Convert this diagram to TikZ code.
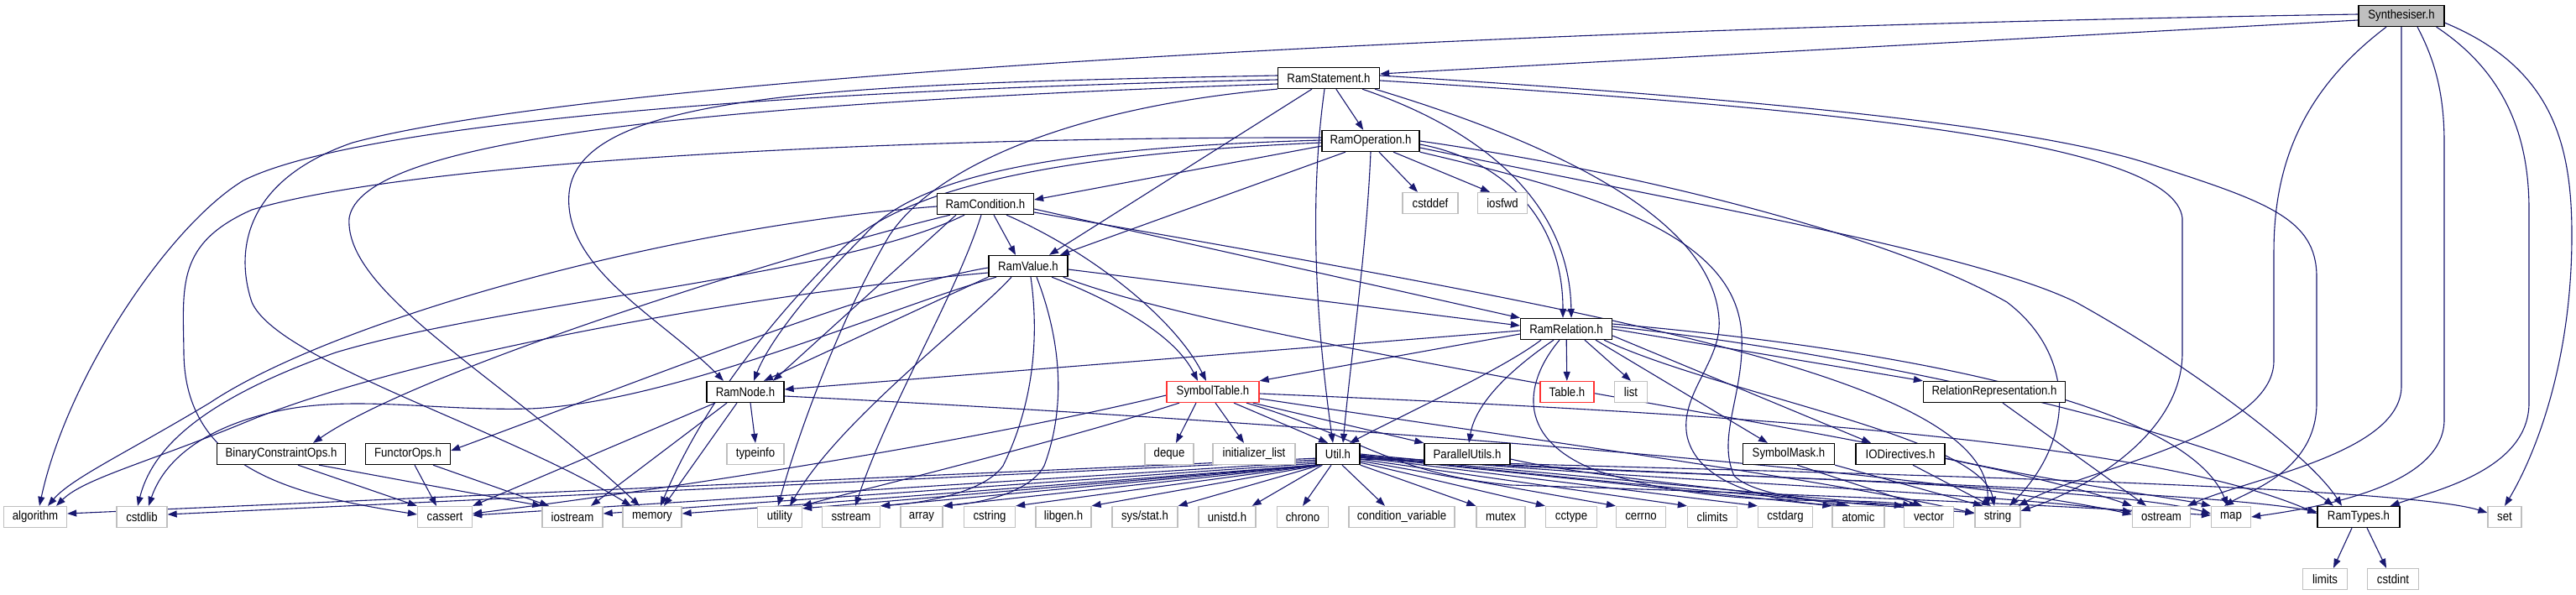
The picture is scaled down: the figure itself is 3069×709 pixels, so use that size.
\documentclass[tikz,border=0pt]{standalone}
\usepackage{fontspec}
\setmainfont{Liberation Sans}[FakeStretch=0.88]
\usetikzlibrary{arrows.meta}
\definecolor{edgec}{HTML}{191970}
\definecolor{sysgray}{HTML}{BFBFBF}
\definecolor{synfill}{HTML}{BFBFBF}
\definecolor{redb}{HTML}{FF3333}
\pgfdeclarelayer{bg}
\pgfsetlayers{bg,main}
\begin{document}
\begin{tikzpicture}[x=1pt,y=-1pt,
  base/.style={rectangle, inner sep=0pt, minimum height=25pt, line width=1.3pt, fill=white, font=\fontsize{15pt}{17pt}\selectfont},
  hb/.style={base, draw=black},
  sb/.style={base, draw=sysgray},
  rb/.style={base, draw=redb},
  ed/.style={draw=edgec, line width=1.1pt, -{Triangle[length=11pt,width=8pt]}}]
\useasboundingbox (0,0) rectangle (3069,709);

% ---------- nodes ----------
\node[hb,fill=synfill,minimum width=102pt] (S) at (2861,19) {Synthesiser.h};
\node[hb,minimum width=121pt] (RS) at (1583,93) {RamStatement.h};
\node[hb,minimum width=116pt] (RO) at (1633,168) {RamOperation.h};
\node[hb,minimum width=115pt] (RC) at (1174,243) {RamCondition.h};
\node[sb,minimum width=66pt] (cstddef) at (1704,242) {cstddef};
\node[sb,minimum width=59pt] (iosfwd) at (1790,242) {iosfwd};
\node[hb,minimum width=94pt] (RV) at (1225,317) {RamValue.h};
\node[hb,minimum width=109pt] (RR) at (1866,392) {RamRelation.h};
\node[hb,minimum width=92pt] (RN) at (888,467) {RamNode.h};
\node[rb,minimum width=110pt] (ST) at (1445,467) {SymbolTable.h};
\node[rb,minimum width=64pt] (Tab) at (1867,467) {Table.h};
\node[sb,minimum width=39pt] (list) at (1943,467) {list};
\node[hb,minimum width=169pt] (RelRep) at (2376,467) {RelationRepresentation.h};
\node[hb,minimum width=153pt] (BCO) at (335,541) {BinaryConstraintOps.h};
\node[hb,minimum width=101pt] (FO) at (486,541) {FunctorOps.h};
\node[sb,minimum width=68pt] (typeinfo) at (900,541) {typeinfo};
\node[sb,minimum width=58pt] (deque) at (1393,541) {deque};
\node[sb,minimum width=98pt] (initl) at (1494,541) {initializer\_list};
\node[hb,minimum width=52pt] (Util) at (1594,541) {Util.h};
\node[hb,minimum width=102pt] (PU) at (1748,541) {ParallelUtils.h};
\node[hb,minimum width=109pt] (SM) at (2131,541) {SymbolMask.h};
\node[hb,minimum width=106pt] (IOD) at (2264,541) {IODirectives.h};

\node[sb,minimum width=75pt] (alg) at (42,616) {algorithm};
\node[sb,minimum width=60pt] (cstd) at (169,616) {cstdlib};
\node[sb,minimum width=65pt] (cassert) at (530,616) {cassert};
\node[sb,minimum width=72pt] (iostream) at (682,616) {iostream};
\node[sb,minimum width=70pt] (mem) at (777,616) {memory};
\node[sb,minimum width=53pt] (utility) at (929,616) {utility};
\node[sb,minimum width=69pt] (sstream) at (1014,616) {sstream};
\node[sb,minimum width=50pt] (array) at (1098,616) {array};
\node[sb,minimum width=61pt] (cstring) at (1179,616) {cstring};
\node[sb,minimum width=66pt] (libgen) at (1267,616) {libgen.h};
\node[sb,minimum width=78pt] (sysstat) at (1364,616) {sys/stat.h};
\node[sb,minimum width=68pt] (unistd) at (1462,616) {unistd.h};
\node[sb,minimum width=61pt] (chrono) at (1552,616) {chrono};
\node[sb,minimum width=126pt] (condvar) at (1670,616) {condition\_variable};
\node[sb,minimum width=58pt] (mutex) at (1788,616) {mutex};
\node[sb,minimum width=61pt] (cctype) at (1872,616) {cctype};
\node[sb,minimum width=59pt] (cerrno) at (1955,616) {cerrno};
\node[sb,minimum width=59pt] (climits) at (2040,616) {climits};
\node[sb,minimum width=65pt] (cstdarg) at (2127,616) {cstdarg};
\node[sb,minimum width=62pt] (atomic) at (2214,616) {atomic};
\node[sb,minimum width=59pt] (vec) at (2298,616) {vector};
\node[sb,minimum width=54pt] (str) at (2380,616) {string};
\node[sb,minimum width=69pt] (ostream) at (2575,616) {ostream};
\node[sb,minimum width=47pt] (map) at (2658,616) {map};
\node[hb,minimum width=98pt] (RT) at (2810,616) {RamTypes.h};
\node[sb,minimum width=40pt] (set) at (2984,616) {set};
\node[sb,minimum width=53pt] (limits) at (2770,690) {limits};
\node[sb,minimum width=61pt] (cstdint) at (2851,690) {cstdint};

\begin{pgfonlayer}{bg}
\fill[white] (0,0) rectangle (3069,709);

% ---------- Synthesiser.h ----------
\draw[ed] ([yshift=-5pt]S.west) -- ([yshift=5pt]RS.east);
\draw[ed] ([yshift=2pt]S.west) .. controls (1700,35) and (700,95) .. (420,170) .. controls (290,215) and (280,300) .. (300,360) .. controls (330,430) and (600,510) .. ([xshift=-25pt]mem.north);
\draw[ed] ([xshift=-18pt]S.south) .. controls (2740,110) and (2709,200) .. (2709,300) -- (2709,430) .. controls (2709,520) and (2480,560) .. ([xshift=-3pt]str.north east);
\draw[ed] (S.south) -- (2861,460) .. controls (2861,540) and (2680,570) .. ([xshift=-4pt]ostream.north east);
\draw[ed] ([xshift=19pt]S.south) .. controls (2900,70) and (2912,110) .. (2912,170) -- (2912,500) .. controls (2912,580) and (2760,605) .. (map.east);
\draw[ed] ([xshift=-10pt]S.south east) .. controls (2990,90) and (3013,170) .. (3013,250) -- (3013,480) .. controls (3013,560) and (2900,585) .. ([xshift=-12pt]RT.north east);
\draw[ed] ([yshift=5pt]S.south east) .. controls (3040,80) and (3064,170) .. (3064,280) .. controls (3064,450) and (3010,560) .. (set.north);

% ---------- RamStatement.h ----------
\draw[ed] (RS) -- (RO);
\draw[ed] ([xshift=-20pt]RS.south) -- ([xshift=25pt]RV.north);
\draw[ed] ([xshift=-5pt]RS.south) .. controls (1558,250) and (1570,400) .. ([xshift=-6pt]Util.north);
\draw[ed] ([xshift=40pt]RS.south) .. controls (1780,160) and (1870,250) .. ([xshift=6pt]RR.north);
\draw[ed] ([yshift=3pt]RS.west) .. controls (1000,100) and (690,110) .. (678,230) .. controls (670,320) and (790,380) .. ([xshift=-26pt]RN.north);
\draw[ed] ([yshift=-2pt]RS.west) .. controls (900,108) and (420,150) .. (290,215) .. controls (200,270) and (80,450) .. ([xshift=5pt]alg.north);
\draw[ed] ([yshift=-7pt]RS.west) .. controls (800,125) and (430,170) .. (416,260) .. controls (410,350) and (600,450) .. ([xshift=-15pt]mem.north);
\draw[ed] (RS.south west) .. controls (1300,125) and (1120,190) .. (1060,280) .. controls (1000,380) and (950,520) .. ([xshift=-2pt]utility.north);
\draw[ed] ([yshift=3pt]RS.east) .. controls (2100,118) and (2420,150) .. (2560,195) .. controls (2700,240) and (2760,260) .. (2760,330) -- (2760,480) .. controls (2760,560) and (2680,585) .. ([xshift=-8pt]map.north);
\draw[ed] ([yshift=-3pt]RS.east) .. controls (2200,130) and (2590,170) .. (2600,260) -- (2600,420) .. controls (2600,520) and (2480,585) .. ([yshift=-6pt]str.north east);
\draw[ed] ([xshift=55pt]RS.south) .. controls (1850,170) and (2040,260) .. (2048,380) .. controls (2052,430) and (2000,470) .. (2010,520) .. controls (2025,585) and (2130,600) .. ([xshift=-10pt]atomic.north);

% ---------- RamOperation.h ----------
\draw[ed] ([yshift=-6pt]RO.west) -- ([yshift=5pt]RC.east);
\draw[ed] ([xshift=-30pt]RO.south) -- ([xshift=38pt]RV.north);
\draw[ed] (RO.south) .. controls (1628,300) and (1610,420) .. ([xshift=6pt]Util.north);
\draw[ed] ([xshift=10pt]RO.south) -- ([xshift=-15pt]cstddef.north);
\draw[ed] ([xshift=27pt]RO.south) -- ([xshift=-15pt]iosfwd.north);
\draw[ed] ([yshift=-4pt]RO.east) .. controls (1790,190) and (1862,260) .. ([xshift=-4pt]RR.north);
\draw[ed] ([yshift=4pt]RO.west) .. controls (1100,163) and (500,190) .. (300,250) .. controls (210,290) and (218,340) .. (219,420) .. controls (220,560) and (350,590) .. ([yshift=3pt]cassert.west);
\draw[ed] ([yshift=1pt]RO.west) .. controls (1300,175) and (1100,200) .. (1030,280) .. controls (960,350) and (915,410) .. ([xshift=10pt]RN.north);
\draw[ed] ([yshift=-2pt]RO.west) .. controls (1300,182) and (1080,215) .. (1000,300) .. controls (900,400) and (830,500) .. ([xshift=10pt]mem.north);
\draw[ed] (RO.east) .. controls (1950,205) and (2250,280) .. (2391,360) .. controls (2470,420) and (2475,520) .. ([xshift=14pt]str.north);
\draw[ed] ([yshift=-8pt]RO.east) .. controls (2000,240) and (2350,300) .. (2473,360) .. controls (2600,430) and (2750,540) .. ([xshift=-20pt]RT.north);
\draw[ed] (RO.south east) .. controls (1900,230) and (2070,280) .. (2075,400) .. controls (2078,470) and (2045,520) .. (2066,567) .. controls (2100,600) and (2230,600) .. ([xshift=-12pt]vec.north);

% ---------- RamCondition.h ----------
\draw[ed] ([xshift=10pt]RC.south) -- ([xshift=-15pt]RV.north);
\draw[ed] ([xshift=25pt]RC.south) .. controls (1300,300) and (1400,380) .. ([xshift=-8pt]ST.north);
\draw[ed] ([yshift=-6pt]RC.east) -- (RR.north west);
\draw[ed] ([xshift=-35pt]RC.south) -- ([xshift=33pt]RN.north);
\draw[ed] ([xshift=-42pt]RC.south) .. controls (950,300) and (500,440) .. ([xshift=38pt]BCO.north);
\draw[ed] ([yshift=-3pt]RC.west) .. controls (800,270) and (400,380) .. (250,480) .. controls (150,540) and (85,570) .. ([xshift=15pt]alg.north);
\draw[ed] ([xshift=-25pt]RC.south) .. controls (1000,330) and (600,360) .. (400,420) .. controls (230,480) and (180,540) .. ([xshift=-5pt]cstd.north);
\draw[ed] ([xshift=-5pt]RC.south) .. controls (1140,350) and (1060,480) .. ([xshift=5pt]sstream.north);
\draw[ed] ([yshift=-10pt]RC.east) .. controls (1900,370) and (2370,450) .. ([xshift=-12pt]str.north);

% ---------- RamValue.h ----------
\draw[ed] ([yshift=-4pt]RV.east) -- ([yshift=4pt]RR.west);
\draw[ed] ([xshift=28pt]RV.south) .. controls (1330,360) and (1400,400) .. ([xshift=-18pt]ST.north);
\draw[ed] (RV.south west) -- ([xshift=22pt]RN.north);
\draw[ed] ([yshift=-2pt]RV.west) .. controls (1050,340) and (800,440) .. ([yshift=4pt]FO.east);
\draw[ed] ([yshift=-8pt]RV.west) .. controls (900,350) and (500,420) .. (300,500) .. controls (180,550) and (100,570) .. ([xshift=25pt]alg.north);
\draw[ed] ([xshift=-38pt]RV.south) .. controls (1050,370) and (800,480) .. (631,487) .. controls (520,490) and (420,470) .. (330,490) .. controls (240,510) and (195,550) .. ([xshift=8pt]cstd.north);
\draw[ed] ([xshift=-20pt]RV.south) .. controls (1160,380) and (1000,500) .. ([xshift=12pt]utility.north);
\draw[ed] ([xshift=3pt]RV.south) .. controls (1238,400) and (1232,480) .. (1195,555) .. controls (1170,590) and (1090,600) .. (sstream.north east);
\draw[ed] ([xshift=10pt]RV.south) .. controls (1262,400) and (1272,480) .. (1244,555) .. controls (1225,590) and (1160,600) .. (array.north east);
\draw[ed] ([xshift=-6pt]RV.south east) .. controls (1500,420) and (2300,520) .. (ostream.north west);

% ---------- RamRelation.h ----------
\draw[ed] (RR) -- (Tab);
\draw[ed] ([xshift=22pt]RR.south) -- (list.north);
\draw[ed] ([yshift=-6pt]RR.west) -- (ST.north east);
\draw[ed] ([yshift=-2pt]RR.west) -- ([yshift=3pt]RN.east);
\draw[ed] ([xshift=-30pt]RR.south) .. controls (1790,440) and (1680,490) .. ([xshift=14pt]Util.north);
\draw[ed] ([xshift=-15pt]RR.south) .. controls (1800,440) and (1758,480) .. ([xshift=2pt]PU.north);
\draw[ed] (RR.east) -- (RelRep.north west);
\draw[ed] ([xshift=35pt]RR.south) -- ([xshift=-25pt]SM.north);
\draw[ed] ([yshift=-8pt]RR.east) -- ([xshift=-35pt]IOD.north);
\draw[ed] ([xshift=-8pt]RR.south) .. controls (1820,450) and (1800,520) .. (1900,560) .. controls (2050,610) and (2200,590) .. ([xshift=-20pt]vec.north);
\draw[ed] ([yshift=6pt]RR.east) .. controls (2200,410) and (2600,470) .. ([xshift=-4pt]map.north);
\draw[ed] ([yshift=3pt]RR.east) .. controls (2300,430) and (2700,540) .. ([xshift=-30pt]RT.north);
\draw[ed] ([xshift=45pt]RR.south) .. controls (2050,470) and (2360,520) .. ([xshift=-4pt]str.north);

% ---------- RamNode.h ----------
\draw[ed] ([xshift=6pt]RN.south) -- (typeinfo.north);
\draw[ed] ([xshift=-36pt]RN.south) -- (cassert.north east);
\draw[ed] ([xshift=-22pt]RN.south) -- ([xshift=22pt]iostream.north);
\draw[ed] ([xshift=-10pt]RN.south) -- ([xshift=14pt]mem.north);
\draw[ed] ([yshift=-5pt]RN.east) .. controls (1500,500) and (2300,560) .. ([yshift=3pt]ostream.west);

% ---------- SymbolTable.h ----------
\draw[ed] ([xshift=-20pt]ST.south) -- ([xshift=8pt]deque.north);
\draw[ed] ([xshift=3pt]ST.south) -- ([xshift=-12pt]initl.north);
\draw[ed] ([xshift=25pt]ST.south) -- ([xshift=-12pt]Util.north);
\draw[ed] ([xshift=-8pt]ST.south east) -- (PU.north west);
\draw[ed] ([yshift=-4pt]ST.west) .. controls (1100,540) and (700,595) .. ([yshift=4pt]cassert.east);
\draw[ed] ([xshift=-40pt]ST.south) .. controls (1250,530) and (1000,590) .. (utility.north east);
\draw[ed] ([yshift=-2pt]ST.east) .. controls (2000,490) and (2550,520) .. ([yshift=4pt]RT.west);
\draw[ed] ([yshift=-8pt]ST.east) .. controls (1800,520) and (2200,575) .. ([yshift=4pt]str.west);
\draw[ed] ([xshift=40pt]ST.south) .. controls (1620,520) and (1660,565) .. (1800,578) .. controls (2200,590) and (2500,605) .. ([yshift=2pt]map.west);

% ---------- Util.h ----------
\draw[ed] ([yshift=8pt]Util.south west) -- ([yshift=4pt]alg.east);
\draw[ed] ([yshift=6pt]Util.south west) -- ([yshift=3pt]cstd.east);
\draw[ed] ([yshift=4pt]Util.south west) -- ([yshift=2pt]cassert.east);
\draw[ed] ([yshift=2pt]Util.south west) -- ([yshift=4pt]iostream.east);
\draw[ed] (Util.south west) -- ([yshift=4pt]mem.east);
\draw[ed] (Util.south west) -- ([yshift=-3pt]utility.north east);
\draw[ed] ([xshift=2pt]Util.south west) -- (sstream.north east);
\draw[ed] ([xshift=3pt]Util.south west) -- (array.north east);
\draw[ed] ([xshift=4pt]Util.south west) -- (cstring.north east);
\draw[ed] ([xshift=5pt]Util.south west) -- (libgen.north east);
\draw[ed] ([xshift=6pt]Util.south west) -- (sysstat.north east);
\draw[ed] ([xshift=8pt]Util.south west) -- ([xshift=-5pt]unistd.north east);
\draw[ed] ([xshift=-8pt]Util.south) -- (chrono.north);
\draw[ed] ([xshift=5pt]Util.south) -- ([xshift=-20pt]condvar.north);
\draw[ed] (Util.south east) -- (mutex.north west);
\draw[ed] ([yshift=3pt]Util.south east) -- (cctype.north west);
\draw[ed] ([yshift=5pt]Util.south east) -- (cerrno.north west);
\draw[ed] ([yshift=7pt]Util.south east) -- (climits.north west);
\draw[ed] ([yshift=9pt]Util.south east) -- (cstdarg.north west);
\draw[ed] ([yshift=10pt]Util.south east) -- (atomic.north west);
\draw[ed] ([yshift=11pt]Util.south east) -- (vec.north west);
\draw[ed] ([yshift=12pt]Util.south east) .. controls (1900,575) and (2200,600) .. ([yshift=5pt]str.west);
\draw[ed] (Util.east) .. controls (1900,570) and (2350,585) .. ([yshift=6pt]ostream.west);
\draw[ed] ([yshift=-2pt]Util.east) .. controls (1900,565) and (2500,575) .. ([yshift=4pt]map.west);
\draw[ed] ([yshift=-4pt]Util.east) .. controls (1900,565) and (2600,580) .. ([yshift=6pt]RT.west);
\draw[ed] ([yshift=-6pt]Util.east) .. controls (2000,560) and (2850,575) .. ([yshift=5pt]set.west);

% ---------- others ----------
\draw[ed] ([yshift=-6pt]PU.east) .. controls (1900,570) and (2100,585) .. ([xshift=-15pt]atomic.north);
\draw[ed] ([xshift=10pt]SM.south) -- ([xshift=-8pt]vec.north);
\draw[ed] (SM.south east) -- ([xshift=-18pt]str.north);
\draw[ed] ([xshift=15pt]IOD.south) -- ([xshift=-8pt]str.north);
\draw[ed] ([yshift=-5pt]IOD.east) .. controls (2450,575) and (2600,595) .. (map.north west);
\draw[ed] ([xshift=10pt]RelRep.south) -- ([xshift=-18pt]ostream.north);
\draw[ed] ([xshift=-8pt]RT.south) -- ([xshift=10pt]limits.north);
\draw[ed] ([xshift=10pt]RT.south) -- ([xshift=-8pt]cstdint.north);
\draw[ed] ([xshift=20pt]BCO.south) -- (cassert.north west);
\draw[ed] ([xshift=45pt]BCO.south) -- (iostream.north west);
\draw[ed] ([xshift=8pt]FO.south) -- ([xshift=-10pt]cassert.north);
\draw[ed] ([xshift=30pt]FO.south) -- ([xshift=-28pt]iostream.north);
\end{pgfonlayer}
\end{tikzpicture}
\end{document}
